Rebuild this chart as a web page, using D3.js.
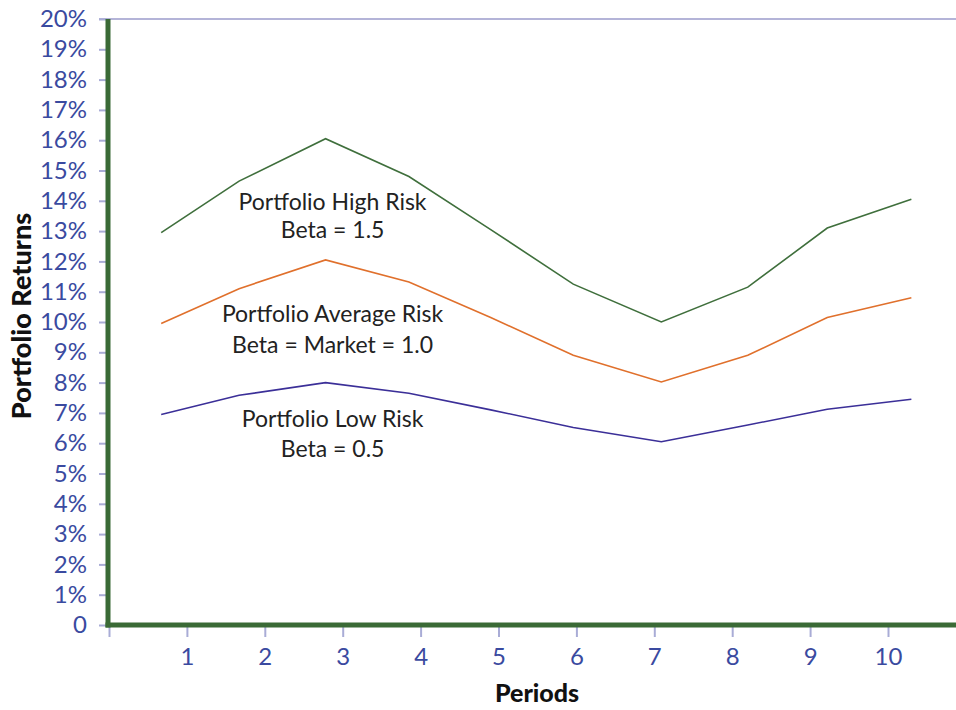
<!DOCTYPE html>
<html>
<head>
<meta charset="utf-8">
<script src="https://cdn.jsdelivr.net/npm/d3@7/dist/d3.min.js"></script>
<style>
  html, body { margin: 0; padding: 0; background: #fff; }
  svg { display: block; }
</style>
</head>
<body>
<svg id="chart" width="956" height="710"></svg>
<script>
// ---- data ----
const periods = [1, 2, 3, 4, 5, 6, 7, 8, 9, 10];
const periodTickLabels = ["1", "2", "3", "4", "5", "6", "7", "8", "9", "10"];
// horizontal placement of each plotted observation (in period units, as drawn)
const pointPositions = [0.67, 1.67, 2.78, 3.85, 4.9, 5.96, 7.09, 8.2, 9.22, 10.3];
const highRisk    = [12.95, 14.65, 16.05, 14.8, 13.05, 11.25, 10.0, 11.15, 13.1, 14.05];
const averageRisk = [9.95, 11.1, 12.05, 11.32, 10.15, 8.9, 8.02, 8.9, 10.15, 10.8];
const lowRisk     = [6.95, 7.58, 8.0, 7.65, 7.1, 6.52, 6.05, 6.6, 7.12, 7.45];
const yTickValues = [0,1,2,3,4,5,6,7,8,9,10,11,12,13,14,15,16,17,18,19,20];
const yTickLabels = ["0","1%","2%","3%","4%","5%","6%","7%","8%","9%","10%","11%","12%","13%","14%","15%","16%","17%","18%","19%","20%"];
const seriesLabels = [
  { name: "high", lines: ["Portfolio High Risk", "Beta = 1.5"] },
  { name: "avg",  lines: ["Portfolio Average Risk", "Beta = Market = 1.0"] },
  { name: "low",  lines: ["Portfolio Low Risk", "Beta = 0.5"] }
];

// ---- layout ----
const svg = d3.select("#chart");
const x0 = 109, x10 = 888;
const yTop = 19, yBottom = 625;
const x = d3.scaleLinear().domain([0, 10]).range([x0, x10]);
const y = d3.scaleLinear().domain([0, 20]).range([yBottom, yTop]);

const axisGreen = "#3a6a36";
const tickColor = "#a9acd6";
const tickText = "#3a4aa0";
const font = "Lato, 'Open Sans', sans-serif";

// top border line
svg.append("line")
  .attr("x1", 99).attr("x2", 956)
  .attr("y1", yTop).attr("y2", yTop)
  .attr("stroke", "#b4b4d8").attr("stroke-width", 2);

// y axis ticks + labels
const yAxis = d3.axisLeft(y)
  .tickValues(yTickValues)
  .tickFormat((d, i) => yTickLabels[i])
  .tickSize(8)
  .tickPadding(12);
const gy = svg.append("g").attr("transform", `translate(${x0 - 2},0)`).call(yAxis);
gy.select(".domain").remove();
gy.selectAll(".tick line").attr("stroke", tickColor).attr("stroke-width", 2);
gy.selectAll(".tick text")
  .attr("fill", tickText)
  .style("font-family", font)
  .style("font-size", "24px");

// x axis ticks + labels
const xAxis = d3.axisBottom(x)
  .tickValues([0].concat(periods))
  .tickFormat(d => d === 0 ? "" : periodTickLabels[d - 1])
  .tickSize(12)
  .tickPadding(11);
const gx = svg.append("g").attr("transform", `translate(0,${yBottom})`).call(xAxis);
gx.select(".domain").remove();
gx.selectAll(".tick line").attr("stroke", tickColor).attr("stroke-width", 2);
gx.selectAll(".tick text")
  .attr("fill", tickText)
  .style("font-family", font)
  .style("font-size", "24px");

// green axis lines
svg.append("line")
  .attr("x1", x0 - 1).attr("x2", x0 - 1)
  .attr("y1", yTop).attr("y2", yBottom + 2.5)
  .attr("stroke", axisGreen).attr("stroke-width", 5);
svg.append("line")
  .attr("x1", x0 - 3.5).attr("x2", 956)
  .attr("y1", yBottom).attr("y2", yBottom)
  .attr("stroke", axisGreen).attr("stroke-width", 5);

// series lines
const line = d3.line()
  .x((d, i) => x(pointPositions[i]))
  .y(d => y(d));
const series = [
  { values: highRisk, color: "#3f6f3c" },
  { values: averageRisk, color: "#e0702c" },
  { values: lowRisk, color: "#3b2f98" }
];
svg.selectAll("path.series").data(series).join("path")
  .attr("class", "series")
  .attr("d", d => line(d.values))
  .attr("fill", "none")
  .attr("stroke", d => d.color)
  .attr("stroke-width", 1.6);

// annotations
const labelAnchors = [
  { xv: 2.87, yv: [13.7, 12.78] },
  { xv: 2.87, yv: [10.0, 8.97] },
  { xv: 2.87, yv: [6.54, 5.55] }
];
seriesLabels.forEach((s, i) => {
  const t = svg.append("text")
    .attr("text-anchor", "middle")
    .attr("fill", "#222")
    .style("font-family", font)
    .style("font-size", "23px");
  s.lines.forEach((ln, j) => {
    t.append("tspan")
      .attr("x", x(labelAnchors[i].xv))
      .attr("y", y(labelAnchors[i].yv[j]))
      .text(ln);
  });
});

// axis titles
svg.append("text")
  .attr("x", 537).attr("y", 702)
  .attr("text-anchor", "middle")
  .attr("fill", "#111")
  .style("font-family", font)
  .style("font-weight", "900")
  .style("font-size", "25px")
  .text("Periods");
svg.append("text")
  .attr("transform", "translate(31,316) rotate(-90)")
  .attr("text-anchor", "middle")
  .attr("fill", "#111")
  .style("font-family", font)
  .style("font-weight", "900")
  .style("font-size", "27px")
  .text("Portfolio Returns");
</script>
</body>
</html>
